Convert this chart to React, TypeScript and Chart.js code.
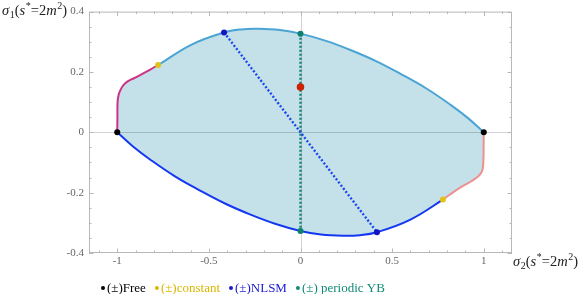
import React, { useEffect, useRef } from "react";
import { Chart, registerables } from "chart.js";

Chart.register(...registerables);

// ---- Data ----
// Upper boundary, (±)Free -> (±)constant branch (magenta)
const upperPinkX = [-1, -0.999, -0.998, -0.992, -0.98, -0.965, -0.947, -0.92, -0.893, -0.838, -0.777];
const upperPinkY = [0, 0.05, 0.1, 0.125, 0.143, 0.157, 0.167, 0.176, 0.184, 0.202, 0.223];
// Upper boundary, (±)constant -> (±)Free branch (light blue)
const upperBlueX = [-0.777, -0.597, -0.417, -0.324, -0.232, -0.112, 0, 0.139, 0.276, 0.412, 0.548, 0.685, 0.821, 0.914, 1];
const upperBlueY = [0.223, 0.29, 0.331, 0.341, 0.343, 0.339, 0.327, 0.303, 0.272, 0.236, 0.193, 0.146, 0.09, 0.047, 0];
// Lower boundary, (±)Free -> (±)constant branch (blue)
const lowerBlueX = [-1, -0.914, -0.821, -0.685, -0.548, -0.412, -0.276, -0.139, 0, 0.112, 0.232, 0.324, 0.417, 0.597, 0.777];
const lowerBlueY = [0, -0.047, -0.09, -0.146, -0.193, -0.236, -0.272, -0.303, -0.327, -0.339, -0.343, -0.341, -0.331, -0.29, -0.223];
// Lower boundary, (±)constant -> (±)Free branch (salmon)
const lowerSalmonX = [0.777, 0.83, 0.889, 0.93, 0.962, 0.982, 0.994, 0.998, 0.999, 1];
const lowerSalmonY = [-0.223, -0.2, -0.177, -0.163, -0.15, -0.138, -0.122, -0.09, -0.05, 0];

// Marked points
const freeX = [-1, 1];
const freeY = [0, 0];
const constantX = [-0.777, 0.777];
const constantY = [0.223, -0.223];
const nlsmX = [-0.417, 0.417];
const nlsmY = [0.331, -0.331];
const ybX = [0, 0];
const ybY = [0.327, -0.327];
const redX = [0];
const redY = [0.15];

// Axes
const xTicks = [-1, -0.5, 0, 0.5, 1];
const yTicks = [-0.4, -0.2, 0, 0.2, 0.4];
const X_MIN = -1.154;
const X_MAX = 1.154;
const Y_MIN = -0.4;
const Y_MAX = 0.4;

// Legend
const legendLabels = ["(±)Free", "(±)constant", "(±)NLSM", "(±) periodic YB"];
const legendColors = ["#000000", "#d9b600", "#1a1ad2", "#138a78"];

// ---- Styles ----
const FILL = "rgb(196,224,232)";
const PINK = "#cc3388";
const LIGHTBLUE = "#4aa5d5";
const BLUE = "#1438f2";
const SALMON = "#ee9090";
const SERIF = "'Liberation Serif', 'DejaVu Serif', serif";
const TENSION = 0.4;

const zip = (xs: number[], ys: number[]) => xs.map((x, i) => ({ x, y: ys[i] }));

type Seg = { t: string; it?: boolean; sub?: boolean; sup?: boolean };

function drawRich(ctx: CanvasRenderingContext2D, segs: Seg[], x: number, baseline: number, size: number) {
  let cx = x;
  ctx.textBaseline = "alphabetic";
  ctx.textAlign = "left";
  for (const s of segs) {
    const sz = s.sub || s.sup ? Math.round(size * 0.7) : size;
    ctx.font = `${s.it ? "italic " : ""}${sz}px ${SERIF}`;
    const dy = s.sub ? size * 0.25 : s.sup ? -size * 0.38 : 0;
    ctx.fillText(s.t, cx, baseline + dy);
    cx += ctx.measureText(s.t).width + (s.it ? 0.6 : 0);
  }
}

const sigma1: Seg[] = [
  { t: "σ", it: true }, { t: "1", sub: true }, { t: "(" }, { t: "s", it: true }, { t: "*", sup: true },
  { t: "=2" }, { t: "m", it: true }, { t: "2", sup: true }, { t: ")" },
];
const sigma2: Seg[] = [
  { t: "σ", it: true }, { t: "2", sub: true }, { t: "(" }, { t: "s", it: true }, { t: "*", sup: true },
  { t: "=2" }, { t: "m", it: true }, { t: "2", sup: true }, { t: ")" },
];

const decorPlugin = {
  id: "decor",
  beforeDatasetsDraw(chart: any) {
    const { ctx, chartArea: a, scales } = chart;
    const x = scales.x;
    const y = scales.y;
    ctx.save();
    // zero axes
    ctx.strokeStyle = "rgba(0,0,0,0.17)";
    ctx.lineWidth = 1;
    const y0 = Math.round(y.getPixelForValue(0)) + 0.5;
    const x0 = Math.round(x.getPixelForValue(0)) + 0.5;
    ctx.beginPath();
    ctx.moveTo(a.left, y0);
    ctx.lineTo(a.right, y0);
    ctx.moveTo(x0, a.top);
    ctx.lineTo(x0, a.bottom);
    ctx.stroke();
    // frame
    ctx.strokeStyle = "#b8b8b8";
    ctx.strokeRect(a.left + 0.5, a.top + 0.5, a.right - a.left - 1, a.bottom - a.top - 1);
    // inward ticks
    ctx.beginPath();
    for (let i = -11; i <= 11; i++) {
      const px = Math.round(x.getPixelForValue(i / 10)) + 0.5;
      const len = i % 5 === 0 ? 4.5 : 2.5;
      ctx.moveTo(px, a.bottom);
      ctx.lineTo(px, a.bottom - len);
      ctx.moveTo(px, a.top);
      ctx.lineTo(px, a.top + len);
    }
    for (let j = -8; j <= 8; j++) {
      const py = Math.round(y.getPixelForValue(j * 0.05)) + 0.5;
      const len = j % 4 === 0 ? 4.5 : 2.5;
      ctx.moveTo(a.left, py);
      ctx.lineTo(a.left + len, py);
      ctx.moveTo(a.right, py);
      ctx.lineTo(a.right - len, py);
    }
    ctx.stroke();
    ctx.restore();
  },
  afterDraw(chart: any) {
    const { ctx, chartArea: a } = chart;
    ctx.save();
    ctx.fillStyle = "#222";
    drawRich(ctx, sigma1, 2, 14.5, 14.5);
    drawRich(ctx, sigma2, a.right + 1, 265.5, 14.5);
    // legend
    ctx.font = `13px ${SERIF}`;
    ctx.textBaseline = "alphabetic";
    ctx.textAlign = "left";
    let cx = 103;
    legendLabels.forEach((lab, i) => {
      ctx.fillStyle = legendColors[i];
      ctx.beginPath();
      ctx.arc(cx, 288, 2, 0, Math.PI * 2);
      ctx.fill();
      const tx = cx + 4;
      ctx.fillText(lab, tx, 291.5);
      cx = tx + ctx.measureText(lab).width + 11;
    });
    ctx.restore();
  },
};

export default function App() {
  const ref = useRef<HTMLCanvasElement>(null);
  useEffect(() => {
    const upperData = [...zip(upperPinkX, upperPinkY), ...zip(upperBlueX, upperBlueY).slice(1)];
    const lowerData = [...zip(lowerBlueX, lowerBlueY), ...zip(lowerSalmonX, lowerSalmonY).slice(1)];
    const pinkSegs = upperPinkX.length - 1;
    const blueSegs = lowerBlueX.length - 1;
    const tickFont = { family: SERIF, size: 11 };
    const dot = (data: any[], color: string, r = 3) => ({
      data,
      showLine: false,
      pointRadius: r,
      pointBackgroundColor: color,
      pointBorderWidth: 0,
      order: 1,
    });
    const chart = new Chart(ref.current as HTMLCanvasElement, {
      type: "scatter",
      data: {
        datasets: [
          // fill region between the two boundaries
          {
            data: upperData,
            showLine: true,
            pointRadius: 0,
            borderWidth: 0,
            tension: TENSION,
            backgroundColor: FILL,
            fill: { target: 1, above: FILL, below: FILL },
            order: 9,
          } as any,
          {
            data: lowerData,
            showLine: true,
            pointRadius: 0,
            borderWidth: 0,
            tension: TENSION,
            fill: false,
            order: 9,
          } as any,
          // coloured boundary curves
          {
            data: upperData,
            showLine: true,
            pointRadius: 0,
            borderWidth: 2,
            tension: TENSION,
            borderColor: LIGHTBLUE,
            segment: { borderColor: (c: any) => (c.p0DataIndex < pinkSegs ? PINK : LIGHTBLUE) },
            fill: false,
            order: 5,
          } as any,
          {
            data: lowerData,
            showLine: true,
            pointRadius: 0,
            borderWidth: 2,
            tension: TENSION,
            borderColor: BLUE,
            segment: { borderColor: (c: any) => (c.p0DataIndex < blueSegs ? BLUE : SALMON) },
            fill: false,
            order: 5,
          } as any,
          {
            data: zip(nlsmX, nlsmY),
            showLine: true,
            pointRadius: 0,
            borderWidth: 2.4,
            borderDash: [2, 2],
            borderColor: "#1a48ee",
            order: 3,
          },
          {
            data: zip(ybX, ybY),
            showLine: true,
            pointRadius: 0,
            borderWidth: 2.4,
            borderDash: [2, 2],
            borderColor: "#118070",
            order: 3,
          },
          dot(zip(freeX, freeY), "#000000"),
          dot(zip(constantX, constantY), "#e2c218"),
          dot(zip(nlsmX, nlsmY), "#1414c0"),
          dot(zip(ybX, ybY), "#10806e"),
          dot(zip(redX, redY), "#cc2200", 3.8),
        ],
      },
      options: {
        animation: false,
        responsive: false,
        devicePixelRatio: 1,
        layout: { padding: { top: 9, right: 67, bottom: 21, left: 0 } },
        plugins: {
          legend: { display: false },
          tooltip: { enabled: false },
          filler: { drawTime: "beforeDraw" } as any,
        },
        scales: {
          x: {
            type: "linear",
            min: X_MIN,
            max: X_MAX,
            grid: { display: false, drawTicks: false },
            border: { display: false },
            afterBuildTicks: (s: any) => {
              s.ticks = xTicks.map((v) => ({ value: v }));
            },
            afterFit: (s: any) => {
              s.height = 20;
            },
            ticks: {
              font: tickFont,
              color: "#666",
              padding: 2,
              maxRotation: 0,
              autoSkip: false,
              callback: (v: any) => String(v),
            },
          },
          y: {
            type: "linear",
            min: Y_MIN,
            max: Y_MAX,
            grid: { display: false, drawTicks: false },
            border: { display: false },
            afterBuildTicks: (s: any) => {
              s.ticks = yTicks.map((v) => ({ value: v }));
            },
            afterFit: (s: any) => {
              s.width = 89;
            },
            ticks: {
              font: tickFont,
              color: "#666",
              padding: 5,
              autoSkip: false,
              callback: (v: any) => String(v),
            },
          },
        },
      },
      plugins: [decorPlugin],
    } as any);
    return () => chart.destroy();
  }, []);
  return (
    <div style={{ position: "absolute", left: 0, top: 0, width: 579, height: 294 }}>
      <canvas ref={ref} width={579} height={294} style={{ display: "block", width: 579, height: 294 }} />
    </div>
  );
}
